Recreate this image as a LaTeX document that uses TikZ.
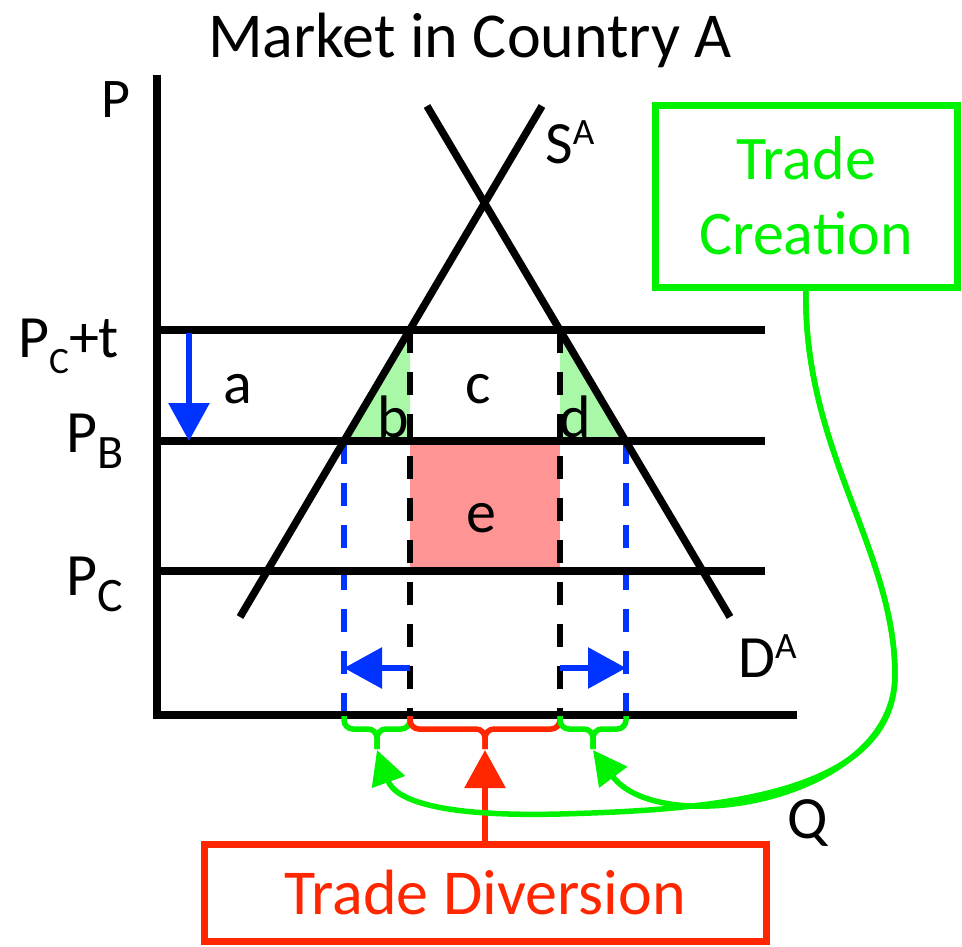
\documentclass[tikz,border=0pt]{standalone}
\usepackage{fontspec}
\setmainfont{Carlito}
\usetikzlibrary{arrows.meta}
\definecolor{tcgreen}{RGB}{0,242,0}
\definecolor{tdred}{RGB}{255,38,0}
\definecolor{qblue}{RGB}{0,51,255}
\definecolor{bdfill}{RGB}{168,248,168}
\definecolor{efill}{RGB}{255,148,148}
\newcommand{\lowidx}[2][0.8]{\raisebox{-0.27em}{\scalebox{#1}{#2}}}
\newcommand{\highidx}[1]{\raisebox{0.31em}{\scalebox{0.62}{#1}}}

\begin{document}
\begin{tikzpicture}[x=1pt,y=-1pt,
  schedule/.style={line width=7.5pt},
  guide/.style={line width=7.5pt},
  drop/.style={line width=5.5pt, dash pattern=on 23pt off 19pt},
  pricemove/.style={qblue, line width=6pt, -{Triangle[width=40pt,length=38pt]}},
  lbl/.style={font=\fontsize{60}{72}\selectfont, inner sep=0pt, anchor=base},
  tcline/.style={tcgreen, line width=5.5pt, -{Triangle[width=34pt,length=34pt]}},
  brc/.style={line width=5.5pt, rounded corners=9pt},
  tag/.style={draw, line width=7pt, inner sep=0pt, align=center}
]
  \useasboundingbox (0,0) rectangle (962,946);

  % key points on the graph
  \coordinate (O) at (157,715);
  \coordinate (ytop) at (157,75);
  \coordinate (xend) at (797,715);
  \coordinate (sPt) at (410,330);
  \coordinate (sPB) at (344,441);
  \coordinate (dPt) at (560,330);
  \coordinate (dPB) at (626,441);
  \coordinate (tipB) at (377,750);
  \coordinate (tipE) at (485,750);
  \coordinate (tipD) at (593,750);

  % areas
  \fill[bdfill] (sPt) -- (sPB) -- (sPt |- sPB) -- cycle;
  \fill[bdfill] (dPt) -- (dPB) -- (dPt |- dPB) -- cycle;
  \fill[efill] (sPt |- sPB) rectangle (560,571);

  % quantity guides
  \draw[drop] (sPt) -- (sPt |- O);
  \draw[drop] (dPt) -- (dPt |- O);
  \draw[drop,qblue] (sPB) -- (sPB |- O);
  \draw[drop,qblue] (dPB) -- (dPB |- O);

  % axes, price lines, supply and demand
  \draw[guide] (ytop) -- (O) -- (xend);
  \foreach \yy in {330,441,571}
    \draw[guide] (157,\yy) -- (765,\yy);
  \draw[schedule] (240,617) -- (542,106);
  \draw[schedule] (427,106) -- (730,617);

  % price fall and quantity changes
  \draw[pricemove] (189,333) -- (189,441);
  \draw[pricemove] (sPt |- 0,668) -- (sPB |- 0,668);
  \draw[pricemove] (dPt |- 0,668) -- (dPB |- 0,668);

  % braces under the axis
  \foreach \xa/\xb/\col in {344/410/tcgreen, 410/560/tdred, 560/626/tcgreen} {
    \draw[brc,\col] (\xa,716) |- ({(\xa+\xb)/2},729) -- ({(\xa+\xb)/2},749);
    \draw[brc,\col] (\xb,716) |- ({(\xa+\xb)/2},729) -- ({(\xa+\xb)/2},749);
  }

  % labels
  \node[anchor=base, inner sep=0pt, font=\fontsize{64}{76}\selectfont] (title) at (470,57) {Market in Country A};
  \node[anchor=base, inner sep=0pt, font=\fontsize{56}{66}\selectfont] (plab) at (116,117) {P};
  \node[anchor=base, inner sep=0pt, font=\fontsize{60}{70}\selectfont] (qlab) at (808,838) {Q};
  \node[lbl, anchor=base west] (ptl) at (18,357) {P\lowidx[0.62]{C}+t};
  \node[lbl, anchor=base west] (pbl) at (66,452) {P\lowidx{B}};
  \node[lbl, anchor=base west] (pcl) at (66,595) {P\lowidx{C}};
  \node[lbl] (la) at (238,403) {a};
  \node[lbl] (lb) at (393,437) {b};
  \node[lbl] (lc) at (478,403) {c};
  \node[lbl] (ld) at (575,437) {d};
  \node[lbl] (le) at (481,532) {e};
  \node[lbl, anchor=base west] (sa) at (545,163) {S\highidx{A}};
  \node[lbl, anchor=base west] (da) at (738,677) {D\highidx{A}};

  % boxes and their connectors
  \node[tag, tcgreen, font=\fontsize{62}{75}\selectfont,
        minimum width=302pt, minimum height=182pt] (tc) at (806,196) {Trade\\Creation};
  \node[tag, tdred, font=\fontsize{64}{76}\selectfont,
        minimum width=562pt, minimum height=97pt] (td) at (485,892.5) {Trade Diversion};
  \draw[tdred, line width=6pt, -{Triangle[width=40pt,length=38pt]}] (td.north) -- (tipE);
  \draw[tcline] (tc.south) .. controls (803,450) and (895,550) .. (895,675)
    .. controls (895,800) and (660,840) .. (tipD);
  \draw[tcline] (tc.south) .. controls (803,450) and (895,550) .. (895,675)
    .. controls (895,800) and (700,810) .. (560,814)
    .. controls (440,817) and (395,800) .. (tipB);
\end{tikzpicture}
\end{document}
